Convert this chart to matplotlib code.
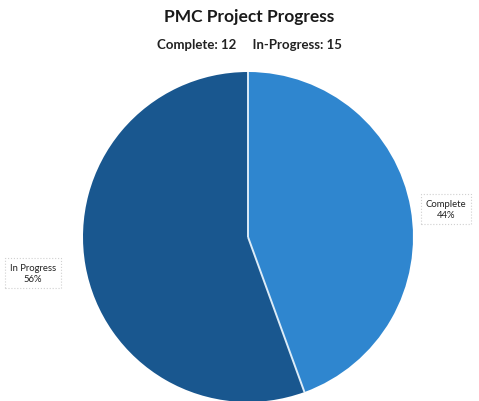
import numpy as np
import matplotlib.pyplot as plt

# project status counts
labels = ['Complete', 'In Progress']
counts = [12, 15]
colors = ['#2f86cf', '#19578f']

W, H = 479, 402
fig = plt.figure(figsize=(W / 100, H / 100), dpi=100)
ax = fig.add_axes([0, 0, 1, 1])

# pie in pixel units
cx, cy, r = 248, H - 238, 165
wedges, _ = ax.pie(counts, colors=colors, startangle=90, counterclock=False,
                   center=(cx, cy), radius=r, frame=True,
                   wedgeprops=dict(edgecolor='none'))
ax.set_xlim(0, W)
ax.set_ylim(0, H)
ax.set_aspect('equal')
ax.axis('off')

# light separator lines between slices
total = sum(counts)
ang = 90.0
for n in counts:
    t = np.deg2rad(ang)
    ax.plot([cx, cx + r * np.cos(t)], [cy, cy + r * np.sin(t)],
            color='#dcecf8', lw=1.4, solid_capstyle='butt')
    ang -= 360.0 * n / total

fig.text(0.52, 1 - 17 / H, 'PMC Project Progress', ha='center', va='center',
         fontsize=12.5, fontweight='bold', family='Lato', color='#1a1a1a')
fig.text(0.52, 1 - 45 / H, f'Complete: {counts[0]}     In-Progress: {counts[1]}',
         ha='center', va='center', fontsize=9.5, fontweight='bold',
         family='Lato', color='#222222')

# data labels with boxed frames
label_pos = [(446, H - 210), (33, H - 274)]
for lab, n, (lx, ly) in zip(labels, counts, label_pos):
    pct = round(100 * n / total)
    ax.text(lx, ly, f'{lab}\n{pct}%', ha='center', va='center', fontsize=6.8,
            family='Lato', color='#222222', linespacing=1.4,
            bbox=dict(boxstyle='square,pad=0.5', facecolor='white',
                      edgecolor='#d0d0d0', linestyle=':', linewidth=0.8))

fig.savefig('out.png', dpi=100)
